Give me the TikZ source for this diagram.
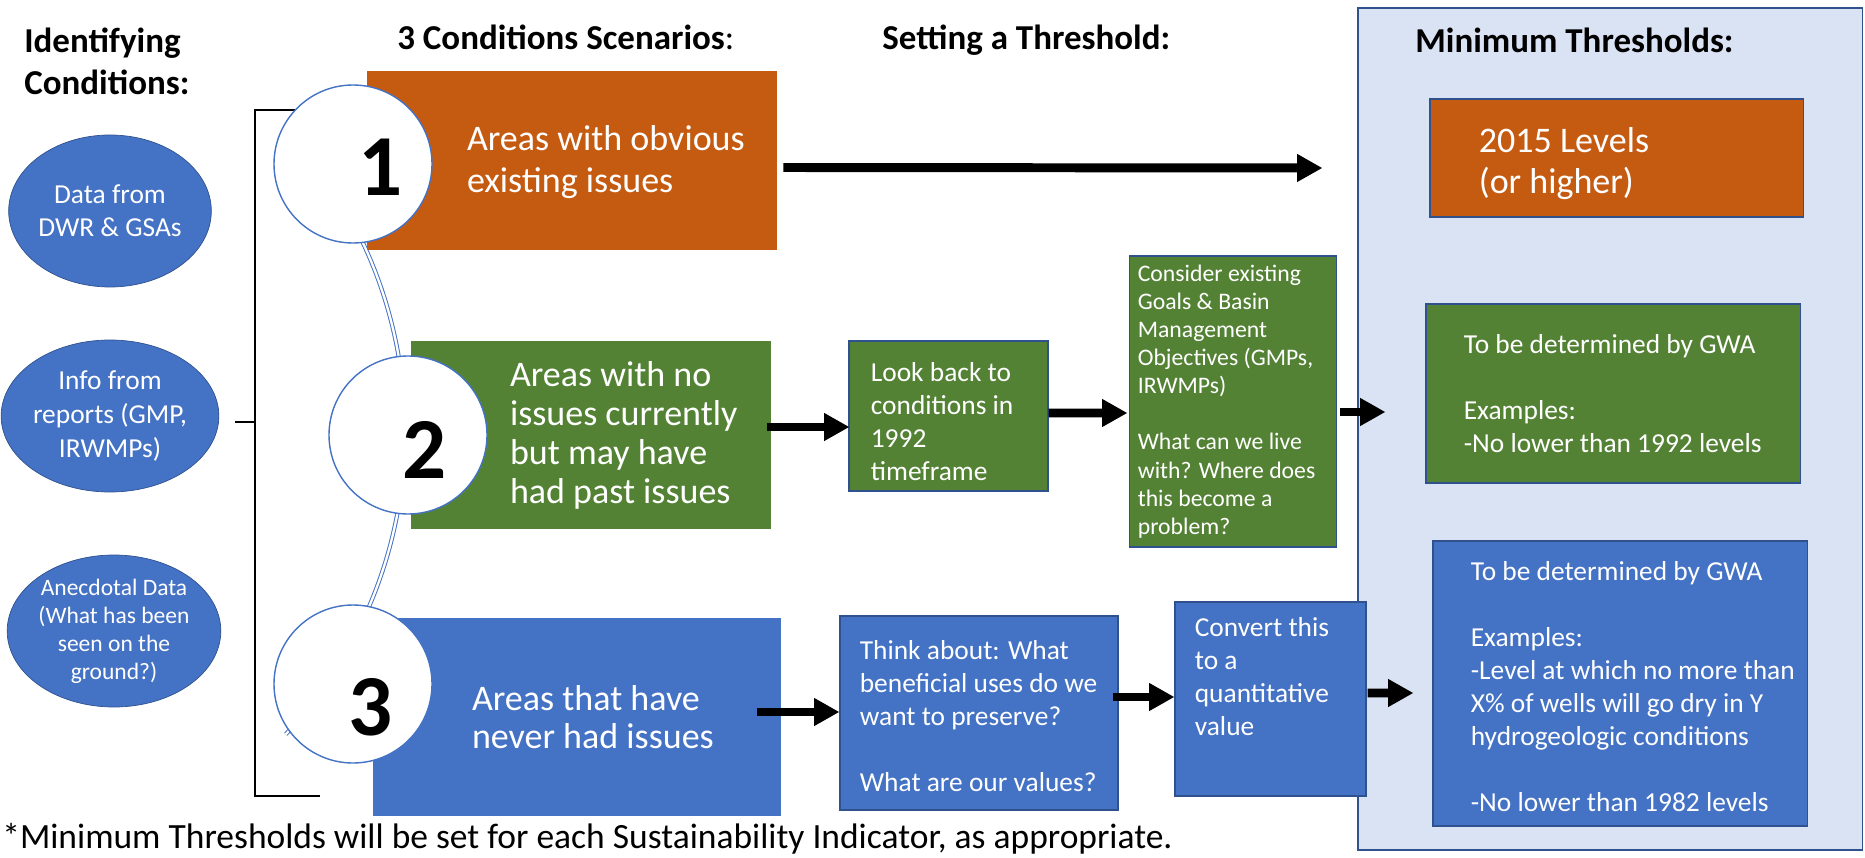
\documentclass[tikz,border=0pt]{standalone}
\usepackage{fontspec}
\setmainfont{Carlito}
\usepackage{tikz}
\usetikzlibrary{calc}
\usetikzlibrary{arrows.meta}
\usetikzlibrary{shapes.geometric}

\definecolor{scorange}{HTML}{C55A11}
\definecolor{scgreen}{HTML}{548235}
\definecolor{scblue}{HTML}{4472C4}
\definecolor{panelblue}{HTML}{DAE3F3}
\definecolor{edgeblue}{HTML}{2F528F}

\newcommand{\pxu}{0.02cm}
\newcommand{\fsz}[2]{\fontsize{#1}{#2}\selectfont}

\tikzset{
  txt/.style={inner sep=0pt, align=left, text=white},
  heading/.style={inner sep=0pt, align=left, font=\bfseries\fsz{19.9}{23.9}},
  bigarrow/.style={line width=5.1pt, -{Triangle[length=14.5pt,width=15pt]}},
  smallbox/.style={draw=edgeblue, line width=0.6pt},
  numcircle/.style={circle, draw=scblue, line width=0.8pt, fill=white, minimum size=158*\pxu, inner sep=0pt},
  source/.style={ellipse, fill=scblue, draw=edgeblue, line width=0.4pt, minimum width=202*\pxu, minimum height=152*\pxu, inner sep=0pt, align=center, text=white},
}

\begin{document}
\begin{tikzpicture}[x=0.02cm, y=-0.02cm]

\useasboundingbox (0,0) rectangle (1865,858);

\node[fill=panelblue, draw=edgeblue, line width=0.6pt, minimum width=504*\pxu, minimum height=842*\pxu] (panel) at (1610,429) {};

\node[heading, anchor=west] (hid) at (24,61) {Identifying\\Conditions:};
\node[heading, anchor=base west] (hsc) at (397,50) {3 Conditions Scenarios{\mdseries :}};
\node[heading, anchor=base west] (hset) at (882,50) {Setting a Threshold:};
\node[heading, anchor=base west] (hmin) at (1415,53) {Minimum Thresholds:};

\draw[line width=1pt] (320,110) -- (255,110) -- (255,796) -- (320,796);
\draw[line width=0.8pt] (235,422) -- (255,422);

\node[source, font=\fsz{15.6}{18.8}] (src1) at (110,211) {Data from\\DWR \& GSAs};
\node[source, font=\fsz{15.6}{19.6}] (src2) at (110,416) {Info from\\reports (GMP,\\IRWMPs)};
\node[source, font=\fsz{13.4}{15.9}] (src3) at (114,631) {Anecdotal Data\\(What has been\\seen on the\\ground?)};

\coordinate (arcctr) at (-39,431.5);
\draw[scblue, line width=0.55pt, double=white, double distance=1.3pt] ([shift={(-28:444)}]arcctr) arc[start angle=-28, end angle=43, radius=444];

\node[fill=scorange, minimum width=410*\pxu, minimum height=179*\pxu] (box1) at (572,160.5) {};
\node[fill=scgreen, minimum width=360*\pxu, minimum height=188*\pxu] (box2) at (591,435) {};
\node[fill=scblue, minimum width=408*\pxu, minimum height=198*\pxu] (box3) at (577,717) {};

\node[numcircle] (c1) at (353,164) {};
\node[numcircle] (c2) at (408,435) {};
\node[numcircle] (c3) at (353,684) {};
\node[font=\bfseries\fsz{49.5}{50}, inner sep=0pt] (n1) at ([shift={(28,3)}]c1.center) {1};
\node[font=\bfseries\fsz{49.5}{50}, inner sep=0pt] (n2) at ([shift={(17,15)}]c2.center) {2};
\node[font=\bfseries\fsz{49.5}{50}, inner sep=0pt] (n3) at ([shift={(18,23)}]c3.center) {3};

\node[txt, anchor=west, font=\fsz{20.5}{23.9}] (txt1) at ([shift={(100,1.5)}]box1.west) {Areas with obvious\\existing issues};
\node[txt, anchor=west, font=\fsz{20.5}{22.2}] (txt2) at ([shift={(99,0)}]box2.west) {Areas with no\\issues currently\\but may have\\had past issues};
\node[txt, anchor=west, font=\fsz{20.5}{21.6}] (txt3) at ([shift={(99,0)}]box3.west) {Areas that have\\never had issues};

\node[smallbox, fill=scgreen, minimum width=199*\pxu, minimum height=150*\pxu] (look) at (948.5,416) {};
\node[txt, anchor=west, font=\fsz{15.6}{18.8}] (looktxt) at ([shift={(22,6)}]look.west) {Look back to\\conditions in\\1992\\timeframe};

\node[smallbox, fill=scgreen, minimum width=207*\pxu, minimum height=291*\pxu] (cons) at (1233,401.5) {};
\node[txt, anchor=west, font=\fsz{13.5}{16}] (constxt) at ([shift={(8.5,0)}]cons.west) {Consider existing\\Goals \& Basin\\Management\\Objectives (GMPs,\\IRWMPs)\\[16pt]What can we live\\with? Where does\\this become a\\problem?};

\node[smallbox, fill=scblue, minimum width=278*\pxu, minimum height=194*\pxu] (think) at (979,713) {};
\node[txt, anchor=west, font=\fsz{15.6}{18.8}] (thinktxt) at ([shift={(20,3.5)}]think.west) {Think about: What\\beneficial uses do we\\want to preserve?\\[18.8pt]What are our values?};

\node[smallbox, fill=scblue, minimum width=191*\pxu, minimum height=194*\pxu] (conv) at (1270.5,699) {};
\node[txt, anchor=north west, font=\fsz{15.6}{18.8}] (convtxt) at ([shift={(20,16)}]conv.north west) {Convert this\\to a\\quantitative\\value};

\node[smallbox, fill=scorange, minimum width=373*\pxu, minimum height=118*\pxu] (mt1) at (1616.5,158) {};
\node[txt, anchor=west, font=\fsz{20.5}{23.3}] (mt1txt) at ([shift={(49,5.5)}]mt1.west) {2015 Levels\\(or higher)};

\node[smallbox, fill=scgreen, minimum width=374*\pxu, minimum height=179*\pxu] (mt2) at (1613,393.5) {};
\node[txt, anchor=west, font=\fsz{15.6}{18.8}] (mt2txt) at ([shift={(38,0)}]mt2.west) {To be determined by GWA\\[18.8pt]Examples:\\-No lower than 1992 levels};

\node[smallbox, fill=scblue, minimum width=374*\pxu, minimum height=285*\pxu] (mt3) at (1620,683.5) {};
\node[txt, anchor=west, font=\fsz{15.6}{18.8}] (mt3txt) at ([shift={(38,3)}]mt3.west) {To be determined by GWA\\[18.8pt]Examples:\\-Level at which no more than\\X\% of wells will go dry in Y\\hydrogeologic conditions\\[18.8pt]-No lower than 1982 levels};

\node[anchor=base west, font=\fsz{20.2}{24}, inner sep=0pt] (note) at (2,848) {*Minimum Thresholds will be set for each Sustainability Indicator, as appropriate.};

\draw[bigarrow] ([shift={(6,7)}]box1.east) -- ([shift={(-107,10)}]mt1.west);
\draw[bigarrow] ([shift={(-4,-8)}]box2.east) -- ([shift={(1,11)}]look.west);
\draw[bigarrow] ([shift={(0,-3)}]look.east) -- ([shift={(-1.5,11.5)}]cons.west);
\draw[bigarrow] ([shift={(3,10.5)}]cons.east) -- ([shift={(-40,18.5)}]mt2.west);
\draw[bigarrow] ([shift={(-24,-5)}]box3.east) -- ([shift={(0,-1)}]think.west);
\draw[bigarrow] ([shift={(-6,-16)}]think.east) -- ([shift={(0,-2)}]conv.west);
\draw[bigarrow] ([shift={(1,-6)}]conv.east) -- ([shift={(-19,9.5)}]mt3.west);

\end{tikzpicture}
\end{document}
